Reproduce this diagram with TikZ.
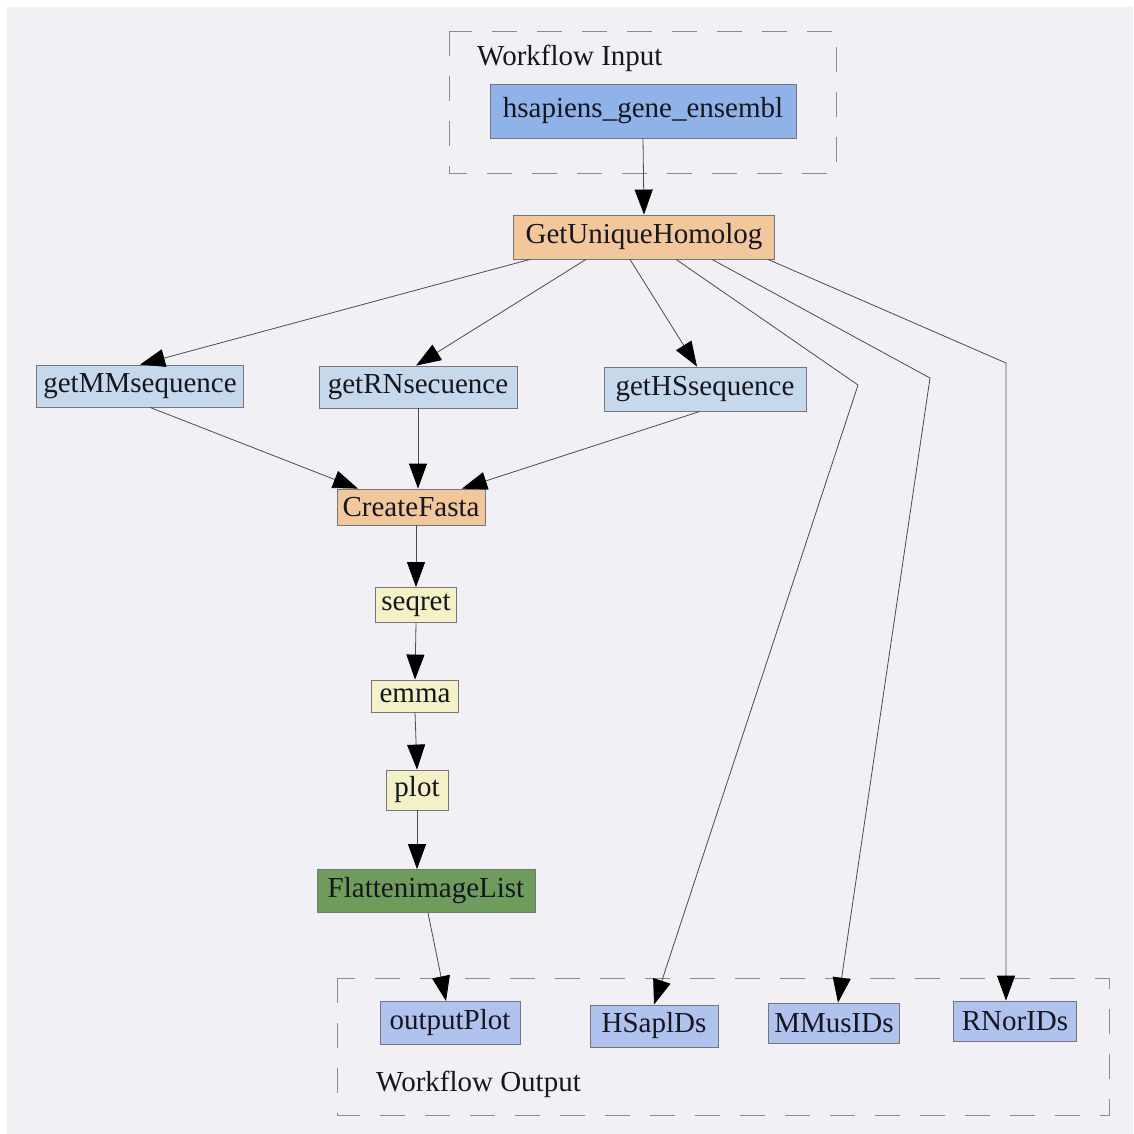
\documentclass[tikz,border=0pt]{standalone}
\usepackage{fontspec}
\setmainfont{Liberation Serif}
\newfontfamily\labelfont{Liberation Serif}
\usetikzlibrary{arrows.meta}

\definecolor{paper}{HTML}{F1F1F5}
\definecolor{ink}{HTML}{16161E}
\definecolor{boxline}{HTML}{75757E}
\definecolor{wire}{HTML}{4A4A52}
\definecolor{frame}{HTML}{8A8A92}
\definecolor{inblue}{HTML}{8FB2E8}
\definecolor{procorange}{HTML}{F2C79C}
\definecolor{seqblue}{HTML}{C6D8EC}
\definecolor{embossyellow}{HTML}{F4F1C8}
\definecolor{flatgreen}{HTML}{6F9C5C}
\definecolor{outblue}{HTML}{B0C2EE}

\begin{document}
\begin{tikzpicture}[x=1pt,y=-1pt,
  box/.style={draw=boxline, line width=0.8pt, inner sep=0pt, text=ink,
    font=\labelfont\fontsize{29}{34}\selectfont},
  edge/.style={draw=wire, line width=0.8pt,
    -{Triangle[length=25pt,width=18pt,color=black]}},
  cluster/.style={draw=frame, line width=0.9pt, dash pattern=on 25pt off 20pt},
  caption/.style={text=ink, inner sep=0pt, anchor=west,
    font=\labelfont\fontsize{29}{34}\selectfont}]

\useasboundingbox (0,0) rectangle (1133,1134);
\fill[white] (0,0) rectangle (1133,1134);
\fill[paper] (7,7) rectangle (1133,1134);

% clusters
\draw[cluster] (449,31) rectangle (836,173);
\node[caption] (incap) at (477,58) {Workflow Input};
\draw[cluster] (337,978) rectangle (1109,1115);
\node[caption] (outcap) at (376,1084) {Workflow Output};

% input
\node[box, fill=inblue, minimum width=306, minimum height=54] (hs) at (643,111) {hsapiens\_gene\_ensembl};

% processors
\node[box, fill=procorange, minimum width=261, minimum height=44] (guh) at (644,237) {GetUniqueHomolog};
\node[box, fill=seqblue, minimum width=207, minimum height=42] (mm) at (140,386) {getMMsequence};
\node[box, fill=seqblue, minimum width=198, minimum height=42] (rn) at (418,387) {getRNsecuence};
\node[box, fill=seqblue, minimum width=202, minimum height=44] (hq) at (705,389) {getHSsequence};
\node[box, fill=procorange, minimum width=148, minimum height=36] (cf) at (411,507) {CreateFasta};
\node[box, fill=embossyellow, minimum width=81, minimum height=35] (sq) at (416,605) {seqret};
\node[box, fill=embossyellow, minimum width=87, minimum height=32] (em) at (415,696) {emma};
\node[box, fill=embossyellow, minimum width=62, minimum height=40] (pl) at (417,790) {plot};
\node[box, fill=flatgreen, minimum width=218, minimum height=43] (fl) at (426,891) {FlattenimageList};

% outputs
\node[box, fill=outblue, minimum width=140, minimum height=43] (op) at (450,1023) {outputPlot};
\node[box, fill=outblue, minimum width=128, minimum height=42] (hsap) at (654,1026) {HSaplDs};
\node[box, fill=outblue, minimum width=131, minimum height=40] (mmus) at (834,1023) {MMusIDs};
\node[box, fill=outblue, minimum width=123, minimum height=40] (rnor) at (1015,1021) {RNorIDs};

% bend points of the long links
\coordinate (b1) at (858,385);
\coordinate (b2) at (930,378);
\coordinate (b3) at (1006,363);

% links
\draw[edge] (hs.south) -- (guh.north);
\draw[edge] ([xshift=-114pt]guh.south) -- (mm.north);
\draw[edge] ([xshift=-58pt]guh.south) -- ([xshift=-2pt]rn.north);
\draw[edge] ([xshift=-14pt]guh.south) -- ([xshift=-8pt]hq.north);
\draw[edge] ([xshift=32pt]guh.south) -- (b1) -- (hsap.north);
\draw[edge] ([xshift=68pt]guh.south) -- (b2) -- ([xshift=4pt]mmus.north);
\draw[edge] ([xshift=124pt]guh.south) -- (b3) -- (b3 |- rnor.north);

\draw[edge] ([xshift=10pt]mm.south) -- ([xshift=-53pt]cf.north);
\draw[edge] (rn.south) -- (rn.south |- cf.north);
\draw[edge] ([xshift=-5pt]hq.south) -- ([xshift=51pt]cf.north);

\draw[edge] (sq.north |- cf.south) -- (sq.north);
\draw[edge] (sq.south) -- (em.north);
\draw[edge] (em.south) -- (pl.north);
\draw[edge] (pl.south) -- (pl.south |- fl.north);
\draw[edge] ([xshift=2pt]fl.south) -- ([xshift=-4pt]op.north);
\end{tikzpicture}
\end{document}
